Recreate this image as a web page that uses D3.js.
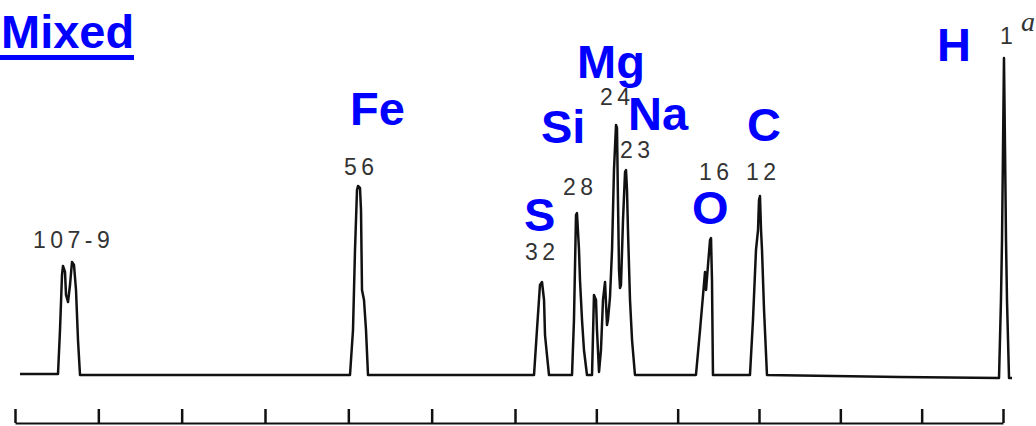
<!DOCTYPE html>
<html>
<head>
<meta charset="utf-8">
<script src="https://cdn.jsdelivr.net/npm/d3@7"></script>
<style>
  html, body { margin: 0; padding: 0; background: #fff; }
  svg { display: block; }
</style>
</head>
<body>
<script>
// flight time (tick units) and signal height
var traceTime = [0.06, 0.516, 0.54, 0.564, 0.576, 0.6, 0.612, 0.636, 0.66, 0.684, 0.708, 0.732, 0.756, 0.78,
  4.02, 4.056, 4.08, 4.104, 4.116, 4.14, 4.152, 4.164, 4.188, 4.212, 4.236,
  6.234, 6.27, 6.307, 6.332, 6.357, 6.369, 6.393, 6.418,
  6.701, 6.725, 6.75, 6.762, 6.787, 6.799, 6.824, 6.848, 6.885,
  6.947, 6.971, 6.996, 7.008, 7.033, 7.057, 7.082, 7.107, 7.131, 7.143, 7.168, 7.193, 7.217, 7.242, 7.254,
  7.266, 7.279, 7.291, 7.303, 7.328, 7.353, 7.365, 7.377, 7.389, 7.414, 7.439, 7.475,
  8.225, 8.275, 8.312, 8.336, 8.349, 8.373, 8.398, 8.41, 8.422, 8.434,
  8.889, 8.926, 8.963, 8.988, 9.0, 9.012, 9.025, 9.037, 9.062, 9.098,
  10.733, 11.951, 11.975, 11.988, 12.0, 12.012, 12.025, 12.037, 12.049, 12.074, 12.111];
var traceSignal = [1, 1, 45, 100, 109, 103, 80, 73, 90, 113, 110, 85, 35, 0,
  0, 45, 125, 185, 189, 187, 165, 85, 75, 45, 0,
  0, 45, 90, 93, 75, 40, 20, 0,
  0, 55, 160, 162, 125, 95, 55, 25, 0,
  0, 80, 75, 45, 3, 25, 75, 93, 50, 55, 78, 125, 205, 250, 247,
  175, 105, 87, 90, 155, 203, 205, 185, 145, 75, 35, 0,
  0, 45, 80, 103, 85, 110, 135, 137, 95, 0,
  0, 55, 125, 145, 175, 179, 145, 125, 65, 0,
  -2, -3, 75, 135, 225, 317, 225, 135, 75, -3, -3];

var tickValues = d3.range(0, 13);

// mass labels above peaks
var massLabels = ["107-9", "56", "32", "28", "24", "23", "16", "12", "1"];
var massAt = [33, 344, 525, 563, 600, 620, 699, 746, 1000];
var massBase = [248, 175, 260, 195, 105, 158, 180, 180, 44];

// element names
var elements = ["Fe", "S", "Si", "Mg", "Na", "O", "C", "H"];
var elementAt = [350, 524, 541, 577, 628, 692, 747, 937];
var elementBase = [125, 231, 143, 78, 130, 224, 141, 61];

var W = 1036, H = 426;
var svg = d3.select("body").append("svg")
  .attr("width", W)
  .attr("height", H);

var x = d3.scaleLinear().domain([0, 6, 12]).range([15, 515, 1003]);
var y = d3.scaleLinear().domain([0, 320]).range([375, 55]);

var pts = traceTime.map(function (t, i) { return [t, traceSignal[i]]; });

svg.append("path")
  .datum(pts)
  .attr("fill", "none")
  .attr("stroke", "#111")
  .attr("stroke-width", 2.5)
  .attr("stroke-linejoin", "round")
  .attr("d", d3.line().x(function (d) { return x(d[0]); }).y(function (d) { return y(d[1]); }));

// axis with upward ticks at the bottom
var ax = svg.append("g")
  .attr("transform", "translate(0,423)")
  .call(d3.axisTop(x).tickValues(tickValues).tickFormat("").tickSize(14).tickSizeOuter(0));
ax.select(".domain").attr("stroke", "#111").attr("stroke-width", 2);
ax.selectAll(".tick line").attr("stroke", "#111").attr("stroke-width", 2.5);

svg.selectAll("text.mass")
  .data(massLabels)
  .enter().append("text")
  .attr("class", "mass")
  .attr("x", function (d, i) { return massAt[i]; })
  .attr("y", function (d, i) { return massBase[i]; })
  .attr("font-family", "Liberation Sans, Arial, sans-serif")
  .attr("font-size", 23)
  .attr("letter-spacing", 4.5)
  .attr("fill", "#333")
  .text(function (d) { return d; });

svg.selectAll("text.el")
  .data(elements)
  .enter().append("text")
  .attr("class", "el")
  .attr("x", function (d, i) { return elementAt[i]; })
  .attr("y", function (d, i) { return elementBase[i]; })
  .attr("font-family", "Liberation Sans, Arial, sans-serif")
  .attr("font-weight", "bold")
  .attr("font-size", 47)
  .attr("fill", "#0000ff")
  .text(function (d) { return d; });

svg.append("text")
  .attr("x", 1)
  .attr("y", 48)
  .attr("font-family", "Liberation Sans, Arial, sans-serif")
  .attr("font-weight", "bold")
  .attr("font-size", 47)
  .attr("fill", "#0000ff")
  .text("Mixed");
svg.append("rect")
  .attr("x", 0).attr("y", 55)
  .attr("width", 134).attr("height", 5)
  .attr("fill", "#0000ff");

svg.append("text")
  .attr("x", 1021)
  .attr("y", 31)
  .attr("font-family", "Liberation Serif, serif")
  .attr("font-style", "italic")
  .attr("font-size", 28)
  .attr("fill", "#333")
  .text("a");
</script>
</body>
</html>
